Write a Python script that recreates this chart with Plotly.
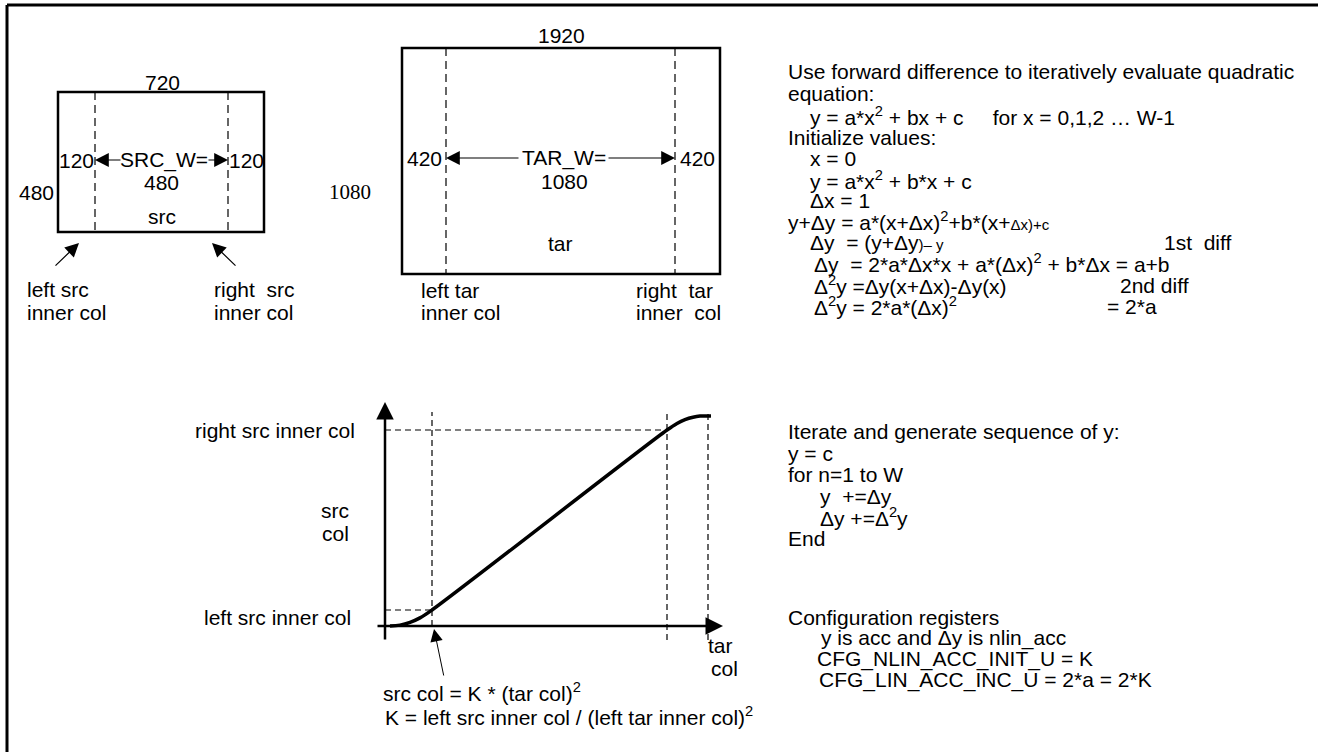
import plotly.graph_objects as go

W, H = 1318, 752
SANS = "Liberation Sans, Arial, sans-serif"
SERIF = "Liberation Serif, Times New Roman, serif"
FS = 21
NB = "\u00a0"

# source / target frame sizes shown in the sketch
src_labels = {"width": "720", "height": "480", "side": "120", "inner": "480"}
tar_labels = {"width": "1920", "height": "1080", "side": "420", "inner": "1080"}

# mapping curve (schematic graph units: tar col -> src col)
curve_tar = [5, 15, 25, 35, 47, 282, 292, 300, 308, 315, 326]
curve_src = [0, 0.9, 3.6, 8.1, 16, 196, 202.6, 206.4, 208.8, 209.9, 210]

# guide positions on the graph (schematic units)
left_tar_inner, right_tar_inner, tar_end = 47, 282, 323
left_src_inner, right_src_inner = 16, 196

# right-hand notes: (x, y, text)
notes = [
    (786, 71, "Use forward difference to iteratively evaluate quadratic"),
    (786, 93, "equation:"),
    (808, 116, "y = a*x<sup>2</sup> + bx + c" + NB * 5 + "for x = 0,1,2 … W-1"),
    (786, 137, "Initialize values:"),
    (808, 158, "x = 0"),
    (808, 180, "y = a*x<sup>2</sup> + b*x + c"),
    (808, 200, "Δx = 1"),
    (786, 221, "y+Δy = a*(x+Δx)<sup>2</sup>+b*(x+<span style='font-size:15px'>Δx)+c</span>"),
    (808, 242, "Δy" + NB + " = (y+Δy<span style='font-size:15px'>)– y</span>"),
    (1162, 242, "1st" + NB + " diff"),
    (812, 263, "Δy" + NB + " = 2*a*Δx*x + a*(Δx)<sup>2</sup> + b*Δx = a+b"),
    (812, 285, "Δ<sup>2</sup>y =Δy(x+Δx)-Δy(x)"),
    (1118, 285, "2nd diff"),
    (812, 306, "Δ<sup>2</sup>y = 2*a*(Δx)<sup>2</sup>"),
    (1105, 306, "= 2*a"),
    (786, 431, "Iterate and generate sequence of y:"),
    (786, 453, "y = c"),
    (786, 474, "for n=1 to W"),
    (818, 496, "y" + NB + " +=Δy"),
    (818, 517, "Δy +=Δ<sup>2</sup>y"),
    (786, 538, "End"),
    (786, 617, "Configuration registers"),
    (819, 638, "y is acc and Δy is nlin_acc"),
    (815, 659, "CFG_NLIN_ACC_INIT_U = K"),
    (817, 680, "CFG_LIN_ACC_INC_U = 2*a = 2*K"),
]

fig = go.Figure()
shapes = []
annotations = []


def line(x0, y0, x1, y1, width=1.2, dash="solid", xref="x", yref="y"):
    shapes.append(dict(type="line", x0=x0, y0=y0, x1=x1, y1=y1, xref=xref, yref=yref,
                       line=dict(color="black", width=width, dash=dash)))


def txt(x, y, s, anchor="left", size=FS, family=SANS, xref="x", yref="y"):
    annotations.append(dict(x=x, y=y, text=s, xref=xref, yref=yref, showarrow=False,
                            xanchor=anchor, yanchor="middle",
                            font=dict(family=family, size=size, color="black")))


def arrow(x0, y0, x1, y1, width=1.2, size=2.3, head=2, xref="x", yref="y"):
    # tail (x0, y0) -> tip (x1, y1)
    annotations.append(dict(x=x1, y=y1, ax=x0, ay=y0, xref=xref, yref=yref,
                            axref=xref, ayref=yref, text="", showarrow=True,
                            arrowhead=head, arrowsize=size, arrowwidth=width,
                            arrowcolor="black", standoff=0, startstandoff=0))


# outer frame (left and top edges)
line(7, 5, 7, H, width=3)
line(7, 5, W, 5, width=3)

# src frame
shapes.append(dict(type="rect", x0=58, y0=92, x1=264, y1=232, xref="x", yref="y",
                   line=dict(color="black", width=2.5)))
line(95, 92, 95, 232, dash="8px,5px")
line(228, 92, 228, 232, dash="8px,5px")
txt(162, 82, src_labels["width"], "center")
txt(76, 160, src_labels["side"], "center")
txt(246, 160, src_labels["side"], "center")
txt(164, 160, "SRC_W=", "center")
txt(161, 182, src_labels["inner"], "center")
txt(36, 192, src_labels["height"], "center")
txt(162, 216, "src", "center")
arrow(122, 160, 95, 160)
arrow(207, 160, 228, 160)
arrow(54, 267, 79, 243)
arrow(237, 267, 212, 243)
txt(25, 289, "left src")
txt(25, 312, "inner col")
txt(212, 289, "right" + NB + " src")
txt(212, 312, "inner col")

# serif height label between the frames
txt(350, 192, tar_labels["height"], "center", family=SERIF)

# tar frame
shapes.append(dict(type="rect", x0=402, y0=48, x1=720, y1=274, xref="x", yref="y",
                   line=dict(color="black", width=2.5)))
line(446, 48, 446, 274, dash="8px,5px")
line(675, 48, 675, 274, dash="8px,5px")
txt(561, 35, tar_labels["width"], "center")
txt(424, 158, tar_labels["side"], "center")
txt(697, 158, tar_labels["side"], "center")
txt(564, 158, "TAR_W=", "center")
txt(564, 181, tar_labels["inner"], "center")
txt(560, 243, "tar", "center")
arrow(520, 158, 446, 158)
arrow(607, 158, 675, 158)
txt(419, 290, "left tar")
txt(419, 312, "inner col")
txt(634, 290, "right" + NB + " tar")
txt(634, 312, "inner" + NB + " col")

# graph: src col vs tar col
line(left_tar_inner, 0, left_tar_inner, 214, dash="6px,4px", xref="x2", yref="y2")
line(right_tar_inner, -14, right_tar_inner, 214, dash="6px,4px", xref="x2", yref="y2")
line(tar_end, -14, tar_end, 214, dash="6px,4px", xref="x2", yref="y2")
line(0, right_src_inner, right_tar_inner, right_src_inner, dash="6px,4px", xref="x2", yref="y2")
line(0, left_src_inner, left_tar_inner, left_src_inner, dash="6px,4px", xref="x2", yref="y2")
# axes with arrows
arrow(0, -15, 0, 224, width=2.5, size=1.4, xref="x2", yref="y2")
arrow(-9, 0, 338, 0, width=2.5, size=1.4, xref="x2", yref="y2")

fig.add_trace(go.Scatter(x=curve_tar, y=curve_src, mode="lines", xaxis="x2", yaxis="y2",
                         line=dict(color="black", width=3.5, shape="spline"),
                         hoverinfo="skip", showlegend=False))

txt(357, 430, "right src inner col", "right")
txt(335, 510, "src", "center")
txt(335, 533, "col", "center")
txt(353, 617, "left src inner col", "right")
txt(720, 645, "tar", "center")
txt(724, 668, "col", "center")
arrow(444, 677, 434, 629, width=1, size=2.5)
txt(381, 692, "src col = K * (tar col)<sup>2</sup>")
txt(383, 716, "K = left src inner col / (left tar inner col)<sup>2</sup>")

for x, y, s in notes:
    txt(x, y, s)

# pixel-space canvas plus a small axis pair for the graph
gx0, gx1 = 375, 735
gy0, gy1 = 400, 650
fig.update_layout(
    width=W, height=H,
    margin=dict(l=0, r=0, t=0, b=0),
    paper_bgcolor="white", plot_bgcolor="white",
    showlegend=False,
    xaxis=dict(range=[0, W], visible=False, domain=[0, 1]),
    yaxis=dict(range=[H, 0], visible=False, domain=[0, 1]),
    xaxis2=dict(range=[gx0 - 385, gx1 - 385], visible=False,
                domain=[gx0 / W, gx1 / W], anchor="y2"),
    yaxis2=dict(range=[626 - gy1, 626 - gy0], visible=False,
                domain=[1 - gy1 / H, 1 - gy0 / H], anchor="x2"),
    shapes=shapes,
    annotations=annotations,
)

# drop the default page margin / scrollbars so the canvas sits at the window origin
fig.write_html("out.html", config={"displayModeBar": False},
               post_script="document.body.style.margin='0px';"
                           "document.body.style.overflow='hidden';")
